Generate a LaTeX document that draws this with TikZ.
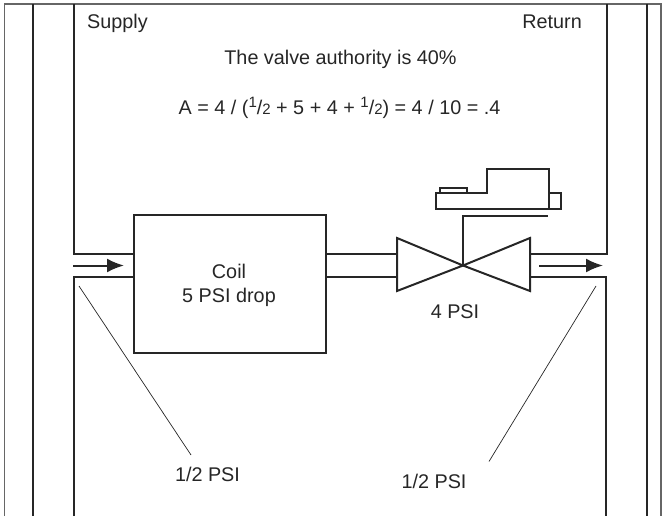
\documentclass[tikz,border=0pt]{standalone}
\usepackage{fontspec}
\setmainfont{Liberation Sans}
\usetikzlibrary{arrows.meta}
\newcommand{\supn}{\raisebox{6.5pt}{\fontsize{15pt}{15pt}\selectfont 1}}
\newcommand{\subn}{{\fontsize{15pt}{15pt}\selectfont 2}}
\tikzset{
 pipe/.style={line width=2pt,color=black!85,line join=miter},
 thin line/.style={line width=0.7pt,color=black!85},
 flow/.style={line width=2pt,color=black!85,-{Latex[length=17pt,width=14pt]}},
 lbl/.style={font=\fontsize{19.8pt}{24pt}\selectfont,text=black!85,inner sep=0pt},
}
\begin{document}
\begin{tikzpicture}[x=1pt,y=-1pt]
\useasboundingbox (0,0) rectangle (663,516);
\coordinate (tl) at (4.5,4); \coordinate (tr) at (661,4);
\coordinate (bl) at (4.5,516); \coordinate (br) at (661,516);
\draw[line width=1.2pt,color=black!60] (bl) -- (tl) -- (tr) -- (br);
\draw[pipe] (33,4) -- (33,516);
\draw[pipe] (647,4) -- (647,516);
\node[lbl,anchor=base west] (sup) at (87,29) {Supply};
\node[lbl,anchor=base east] (ret) at (582,29) {Return};
\node[lbl,anchor=base] (t1) at (340.5,65) {The valve authority is 40\%};
\node[lbl,anchor=base] (t2) at (339.5,114) {A = 4 / (\supn/\subn\ + 5 + 4 + \supn/\subn) = 4 / 10 = .4};
% coil
\node[draw,pipe,minimum width=192pt,minimum height=138pt,inner sep=0pt,anchor=north west] (coil) at (133,214) {};
\node[lbl,align=center] (coilt) at (229,285) {Coil\\5 PSI drop};
% pipes
\draw[pipe] (74,4) -- (74,254) -- (coil.west |- 0,254);
\draw[pipe] (74,516) -- (74,277) -- (coil.west |- 0,277);
\draw[pipe] (coil.east |- 0,254) -- (397,254);
\draw[pipe] (coil.east |- 0,277) -- (397,277);
\draw[pipe] (530,254) -- (606.5,254) -- (606.5,4);
\draw[pipe] (530,277) -- (605.5,277) -- (605.5,516);
% valve
\coordinate (vc) at (463,265.5);
\draw[pipe] (vc) -- (397,238) -- (397,291) -- cycle;
\draw[pipe] (vc) -- (530,238) -- (530,291) -- cycle;
\draw[pipe] (vc) -- (463,215.5) -- (548,215.5);
% actuator
\draw[pipe] (436,209) -- (436,193) -- (487,193) -- (487,169) -- (549,169) -- (549,209) -- cycle;
\draw[pipe] (440,193) -- (440,187.5) -- (467,187.5) -- (467,193);
\draw[pipe] (549,193) -- (561,193) -- (561,209) -- (549,209);
% flow arrows
\coordinate (a1s) at (73,265.5); \coordinate (a1e) at (124,265.5);
\coordinate (a2s) at (539,265.5); \coordinate (a2e) at (603,265.5);
\draw[flow] (a1s) -- (a1e);
\draw[flow] (a2s) -- (a2e);
% leaders
\coordinate (l1s) at (79,286); \coordinate (l1e) at (191,455);
\coordinate (l2s) at (596,286); \coordinate (l2e) at (489,461.5);
\draw[thin line] (l1s) -- (l1e);
\draw[thin line] (l2s) -- (l2e);
\node[lbl,anchor=base] (p4) at (455,318) {4 PSI};
\node[lbl,anchor=base] (p1) at (207.5,481) {1/2 PSI};
\node[lbl,anchor=base] (p2) at (434,488) {1/2 PSI};
\end{tikzpicture}
\end{document}
